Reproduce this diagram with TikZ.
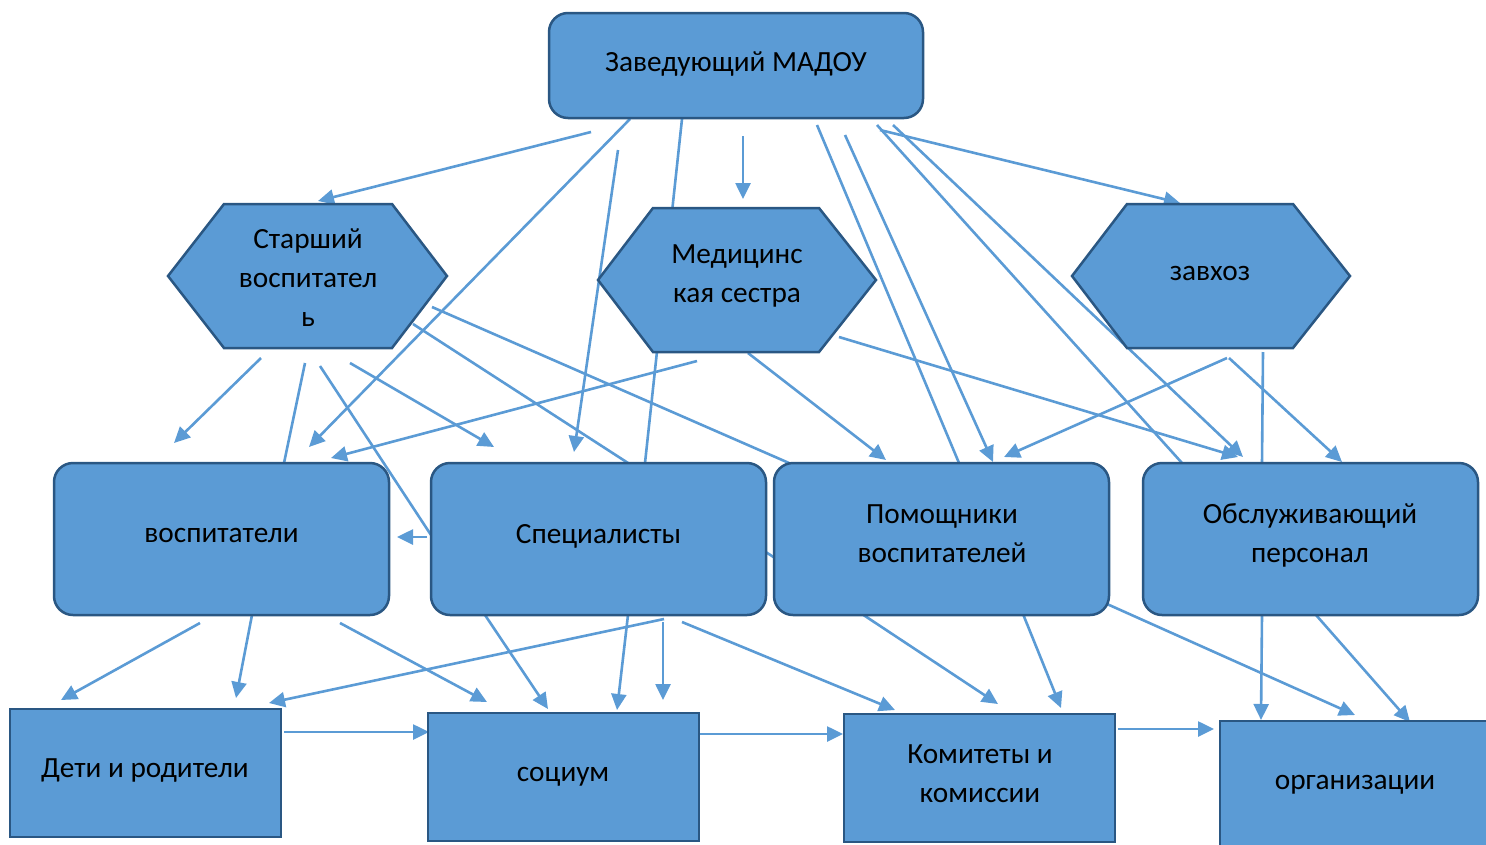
\documentclass[tikz,border=0pt]{standalone}
\usepackage{fontspec}
\setmainfont{Carlito}
\usetikzlibrary{arrows.meta,backgrounds}
\definecolor{fillb}{HTML}{5B9BD5}
\definecolor{edgeb}{HTML}{2A5783}
\definecolor{lineb}{HTML}{5B9BD5}
\begin{document}
\begin{tikzpicture}[x=1pt,y=-1pt,
  conn/.style={draw=lineb, line width=2.6pt},
  arr/.style={conn, -{Triangle[length=16pt,width=15pt]}},
  rbox/.style={draw=edgeb, fill=fillb, line width=2.5pt, rounded corners=19pt, inner sep=0pt},
  sbox/.style={draw=edgeb, fill=fillb, line width=2.8pt, inner sep=0pt},
  hexa/.style={draw=edgeb, fill=fillb, line width=2.5pt, line join=miter},
  txt/.style={font=\fontsize{29.3pt}{39pt}\selectfont, align=center, inner sep=0pt, anchor=base, text=black},
]
\useasboundingbox (0,0) rectangle (1486,844);
\clip (0,0) rectangle (1486,844);

% ---------- boxes ----------
\node[rbox, minimum width=374pt, minimum height=105pt] (boss) at (736,65.5) {};
\draw[hexa] (168,276) -- (224,204) -- (392,204) -- (447,276) -- (392,348) -- (224,348) -- cycle;
\draw[hexa] (598,280) -- (653,208) -- (819,208) -- (876,280) -- (819,352) -- (653,352) -- cycle;
\draw[hexa] (1072,276) -- (1127,204) -- (1293,204) -- (1350,276) -- (1293,348) -- (1127,348) -- cycle;
\node[rbox, minimum width=335pt, minimum height=152pt] (vosp) at (221.5,539) {};
\node[rbox, minimum width=335pt, minimum height=152pt] (spec) at (598.5,539) {};
\node[rbox, minimum width=335pt, minimum height=152pt] (pom) at (941.5,539) {};
\node[rbox, minimum width=335pt, minimum height=152pt] (obs) at (1310.5,539) {};
\node[sbox, minimum width=271pt, minimum height=128pt] (deti) at (145.5,773) {};
\node[sbox, minimum width=271pt, minimum height=128pt] (soc) at (563.5,777) {};
\node[sbox, minimum width=271pt, minimum height=128pt] (kom) at (979.5,778) {};
\node[sbox, minimum width=280pt, minimum height=140pt] (org) at (1360,791) {};

% ---------- texts (base = baseline of the last line) ----------
\node[txt] (tboss) at (736,71) {Заведующий МАДОУ};
\node[txt] (tst) at (308,326) {Старший\\воспитател\\ь};
\node[txt] (tmed) at (737,302) {Медицинс\\кая сестра};
\node[txt] (tzav) at (1210,280) {завхоз};
\node[txt] (tvosp) at (221.5,542) {воспитатели};
\node[txt] (tspec) at (598.5,543) {Специалисты};
\node[txt] (tpom) at (942,562) {Помощники\\воспитателей};
\node[txt] (tobs) at (1310,562) {Обслуживающий\\персонал};
\node[txt] (tdeti) at (145,777) {Дети и родители};
\node[txt] (tsoc) at (563,781) {социум};
\node[txt] (tkom) at (980,802) {Комитеты и\\комиссии};
\node[txt] (torg) at (1355,789) {организации};

% ---------- connector end points ----------
\coordinate (c1s) at (591,132);  \coordinate (c1e) at (318,201);
\coordinate (c2s) at (630,119);  \coordinate (c2e) at (309,447);
\coordinate (c3s) at (618,150);  \coordinate (c3e) at (574,452);
\coordinate (c4s) at (682,119);  \coordinate (c4e) at (645,463);
\coordinate (c5s) at (743,136);  \coordinate (c5e) at (743,199);
\coordinate (c6s) at (817,125);  \coordinate (c6e) at (959,463);
\coordinate (c7s) at (845,135);  \coordinate (c7e) at (993,462);
\coordinate (c8s) at (877,125);  \coordinate (c8e) at (1182,463);
\coordinate (c9s) at (893,125);  \coordinate (c9e) at (1243,457);
\coordinate (c10s) at (880,130); \coordinate (c10e) at (1180,203);
\coordinate (c11s) at (261,358); \coordinate (c11e) at (174,443);
\coordinate (c12s) at (305,363); \coordinate (c12e) at (284,463);
\coordinate (c13s) at (320,366); \coordinate (c13e) at (431,535);
\coordinate (c14s) at (427,537); \coordinate (c14e) at (397,537);
\coordinate (c15s) at (350,363); \coordinate (c15e) at (494,447);
\coordinate (c16s) at (413,324); \coordinate (c16e) at (775,558);
\coordinate (c17s) at (432,307); \coordinate (c17e) at (789,463);
\coordinate (c18s) at (697,361); \coordinate (c18e) at (331,458);
\coordinate (c19s) at (748,353); \coordinate (c19e) at (886,460);
\coordinate (c20s) at (839,337); \coordinate (c20e) at (1238,457);
\coordinate (c21s) at (1227,358); \coordinate (c21e) at (1004,457);
\coordinate (c22s) at (1229,358); \coordinate (c22e) at (1342,462);
\coordinate (c23s) at (1263,352); \coordinate (c23e) at (1262,463);
\coordinate (c24s) at (200,623); \coordinate (c24e) at (61,700);
\coordinate (c25s) at (252,615); \coordinate (c25e) at (236,698);
\coordinate (c26s) at (340,623); \coordinate (c26e) at (487,702);
\coordinate (c27s) at (485,615); \coordinate (c27e) at (548,709);
\coordinate (c28s) at (628,615); \coordinate (c28e) at (617,710);
\coordinate (c29s) at (663,622); \coordinate (c29e) at (663,700);
\coordinate (c30s) at (664,619); \coordinate (c30e) at (269,703);
\coordinate (c31s) at (682,622); \coordinate (c31e) at (895,710);
\coordinate (c32s) at (862,614); \coordinate (c32e) at (998,704);
\coordinate (c33s) at (1023,614); \coordinate (c33e) at (1061,708);
\coordinate (c34s) at (1107,604); \coordinate (c34e) at (1355,715);
\coordinate (c35s) at (1262,615); \coordinate (c35e) at (1261,720);
\coordinate (c36s) at (1316,615); \coordinate (c36e) at (1410,722);
\coordinate (c37s) at (284,732); \coordinate (c37e) at (429,732);
\coordinate (c38s) at (700,734); \coordinate (c38e) at (843,734);
\coordinate (c39s) at (1118,729); \coordinate (c39e) at (1214,729);

% ---------- connectors (behind the shapes) ----------
\begin{scope}[on background layer]
\foreach \i in {1,2,3,5,7,9,10,11,14,15,18,19,20,21,22,24,25,26,27,28,29,30,31,32,33,34,35,36,37,38,39}
  \draw[arr] (c\i s) -- (c\i e);
\foreach \i in {4,6,8,12,13,16,17,23}
  \draw[conn] (c\i s) -- (c\i e);
\end{scope}
\end{tikzpicture}
\end{document}
